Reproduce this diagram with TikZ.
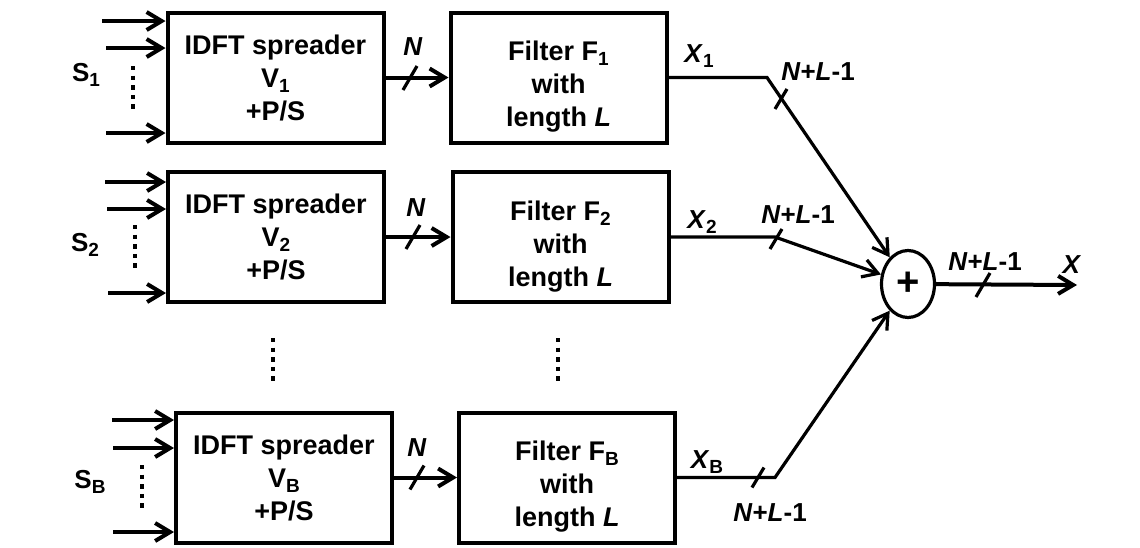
\documentclass[tikz,border=0pt]{standalone}
\usepackage{fontspec}
\setmainfont{Liberation Sans}
\usetikzlibrary{arrows.meta,shapes.geometric}
\newcommand{\lidx}[1]{\raisebox{-0.35ex}{\fontsize{9.5}{10}\selectfont #1}}

\begin{document}
\begin{tikzpicture}[x=0.5pt,y=-0.5pt,
  block_node/.style={rectangle,draw,line width=2pt,minimum width=108pt,minimum height=65pt,inner sep=0pt,align=center,font=\fontsize{13.5}{16.5}\selectfont\bfseries},
  lbl_node/.style={inner sep=1pt,font=\fontsize{13}{15}\selectfont\bfseries},
  arr/.style={line width=2pt,-{Straight Barb[length=7.5pt,width=9pt]}},
  wire/.style={line width=1.6pt},
  sumarr/.style={wire,-{Straight Barb[length=7.5pt,width=9pt]}},
  dots/.style={line width=2.2pt,dash pattern=on 2.2pt off 2.6pt}]

	\useasboundingbox (0,0) rectangle (1140,547);

	\node[block_node] (sp1) at (275.5,77.5) {IDFT spreader\\V\lidx{1}\\+P/S};
	\node[block_node] (sp2) at (276,237) {IDFT spreader\\V\lidx{2}\\+P/S};
	\node[block_node] (spB) at (284,477.5) {IDFT spreader\\V\lidx{B}\\+P/S};
	\node[block_node] (fi1) at (558.5,77.5) {\rule{0pt}{1.4em}Filter F\lidx{1}\\with\\length \textit{L}};
	\node[block_node] (fi2) at (560.5,237) {\rule{0pt}{1.4em}Filter F\lidx{2}\\with\\length \textit{L}};
	\node[block_node] (fiB) at (567,477.5) {\rule{0pt}{1.4em}Filter F\lidx{B}\\with\\length \textit{L}};
	\node[ellipse,draw,line width=1.6pt,minimum width=26.5pt,minimum height=33.5pt,inner sep=0pt,font=\fontsize{20}{20}\selectfont\bfseries] (sum) at (908,284) {+};

	\node[lbl_node] (s1) at (86,75) {S\lidx{1}};
	\node[lbl_node] (s2) at (85,245) {S\lidx{2}};
	\node[lbl_node] (sB) at (90,482) {S\lidx{B}};
	\node[lbl_node] (n1) at (413,47) {\textit{N}};
	\node[lbl_node] (n2) at (416,208) {\textit{N}};
	\node[lbl_node] (nB) at (417,448) {\textit{N}};
	\node[lbl_node] (x1) at (699,56) {\textit{X}\lidx{1}};
	\node[lbl_node] (x2) at (702,222) {\textit{X}\lidx{2}};
	\node[lbl_node] (xB) at (707,462) {\textit{X}\lidx{B}};
	\node[lbl_node] (l1) at (818,72) {\textit{N}+\textit{L}-1};
	\node[lbl_node] (l2) at (798,215) {\textit{N}+\textit{L}-1};
	\node[lbl_node] (lB) at (770,513) {\textit{N}+\textit{L}-1};
	\node[lbl_node] (lO) at (985,262) {\textit{N}+\textit{L}-1};
	\node[lbl_node] (xo) at (1072,265) {\textit{X}};

	\coordinate (i11) at (102,21);
	\coordinate (i12) at (106,48);
	\coordinate (i13) at (106,133);
	\coordinate (i21) at (105,182);
	\coordinate (i22) at (107,209);
	\coordinate (i23) at (108,293);
	\coordinate (iB1) at (112,420);
	\coordinate (iB2) at (113,448);
	\coordinate (iB3) at (113,532);
	\coordinate (c1) at (767,77.5);
	\coordinate (c2) at (775,237);
	\coordinate (cB) at (775,477.5);
	\coordinate (out) at (1077,285);

	\draw[arr] (i11) -- (i11 -| sp1.west);
	\draw[arr] (i12) -- (i12 -| sp1.west);
	\draw[arr] (i13) -- (i13 -| sp1.west);
	\draw[arr] (i21) -- (i21 -| sp2.west);
	\draw[arr] (i22) -- (i22 -| sp2.west);
	\draw[arr] (i23) -- (i23 -| sp2.west);
	\draw[arr] (iB1) -- (iB1 -| spB.west);
	\draw[arr] (iB2) -- (iB2 -| spB.west);
	\draw[arr] (iB3) -- (iB3 -| spB.west);

	\draw[arr] (sp1) -- (fi1);
	\draw[arr] (sp2) -- (fi2);
	\draw[arr] (spB) -- (fiB);

	\draw[sumarr] (fi1.east) -- (c1) -- (sum);
	\draw[sumarr] (fi2.east) -- (c2) -- (sum);
	\draw[sumarr] (fiB.east) -- (cB) -- (sum);
	\draw[arr] (sum) -- (out);

	\draw[wire] (410,78) ++(-7,12) -- ++(14,-24);
	\draw[wire] (413,237) ++(-7,12) -- ++(14,-24);
	\draw[wire] (417,477.5) ++(-7,12) -- ++(14,-24);
	\draw[wire] (781,99) ++(-6,10) -- ++(12,-20);
	\draw[wire] (776,239) ++(-6,10) -- ++(12,-20);
	\draw[wire] (758,477.5) ++(-6,10) -- ++(12,-20);
	\draw[wire] (983,285) ++(-7,12) -- ++(14,-24);

	\draw[dots] (133,66) -- (133,109);
	\draw[dots] (135,225) -- (135,268);
	\draw[dots] (142,465) -- (142,508);
	\draw[dots] (273,338) -- (273,381);
	\draw[dots] (558,338) -- (558,381);

\end{tikzpicture}
\end{document}
